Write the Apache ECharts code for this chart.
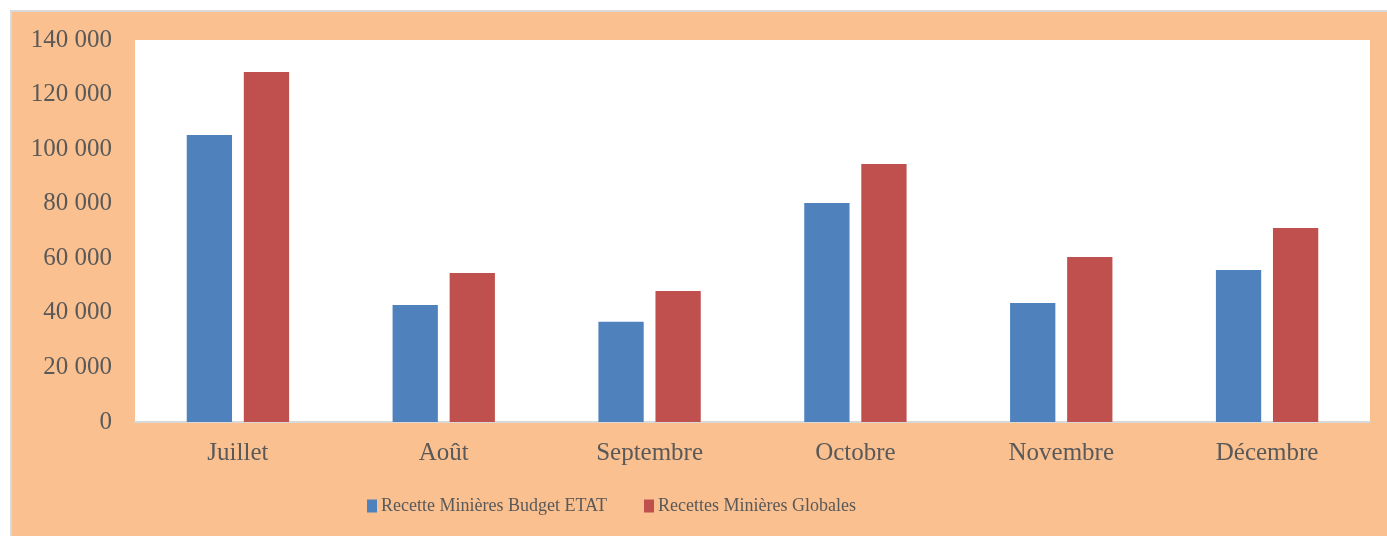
<!DOCTYPE html>
<html>
<head>
<meta charset="utf-8">
<script src="https://cdn.jsdelivr.net/npm/echarts@6/dist/echarts.min.js"></script>
<style>
    html, body { margin: 0; padding: 0; background: #ffffff; overflow: hidden; }
    #frame {
        position: absolute; left: 10px; top: 10px;
        width: 1400px; height: 560px;
        background: #FAC090;
        border-left: 2px solid #d9d9d9;
        border-top: 2px solid #d9d9d9;
    }
    #chart { position: absolute; left: 0; top: 0; width: 1387px; height: 536px; }
</style>
</head>
<body>
<div id="frame"></div>
<div id="chart"></div>
<script>
    // données
    var mois = ['Juillet', 'Août', 'Septembre', 'Octobre', 'Novembre', 'Décembre'];
    var budgetEtat = [105200, 42900, 36700, 80300, 43600, 55700];
    var globales = [128300, 54600, 48000, 94600, 60500, 71100];
    var nomsSeries = ['Recette Minières Budget ETAT', 'Recettes Minières Globales'];

    var police = 'Liberation Serif';
    var myChart = echarts.init(document.getElementById('chart'));

    var options = {
        backgroundColor: 'transparent',
        animation: false,
        grid: {
            left: 135,
            right: 17,
            top: 40,
            bottom: 114,
            show: true,
            backgroundColor: '#ffffff',
            borderWidth: 0
        },
        legend: {
            data: nomsSeries,
            left: 362,
            top: 492,
            itemWidth: 10,
            itemHeight: 13,
            itemGap: 37,
            icon: 'rect',
            textStyle: {
                fontFamily: police,
                fontSize: 18,
                color: '#595959',
                padding: [0, 0, 0, -1]
            }
        },
        xAxis: {
            type: 'category',
            data: mois,
            axisTick: { show: false },
            axisLine: { lineStyle: { color: '#d9d9d9', width: 2 } },
            axisLabel: {
                margin: 19,
                fontFamily: police,
                fontSize: 25,
                color: '#595959'
            }
        },
        yAxis: {
            type: 'value',
            min: 0,
            max: 140000,
            interval: 20000,
            splitLine: { show: false },
            axisLine: { show: false },
            axisTick: { show: false },
            axisLabel: {
                margin: 23,
                fontFamily: police,
                fontSize: 25,
                color: '#595959',
                formatter: function (v) {
                    return String(v).replace(/\B(?=(\d{3})+(?!\d))/g, ' ');
                }
            }
        },
        series: [
            {
                name: nomsSeries[0],
                type: 'bar',
                data: budgetEtat,
                barWidth: '22%',
                barGap: '26%',
                itemStyle: { color: '#4F81BD' }
            },
            {
                name: nomsSeries[1],
                type: 'bar',
                data: globales,
                barWidth: '22%',
                barGap: '26%',
                itemStyle: { color: '#C0504D' }
            }
        ]
    };

    myChart.setOption(options);
</script>
</body>
</html>
